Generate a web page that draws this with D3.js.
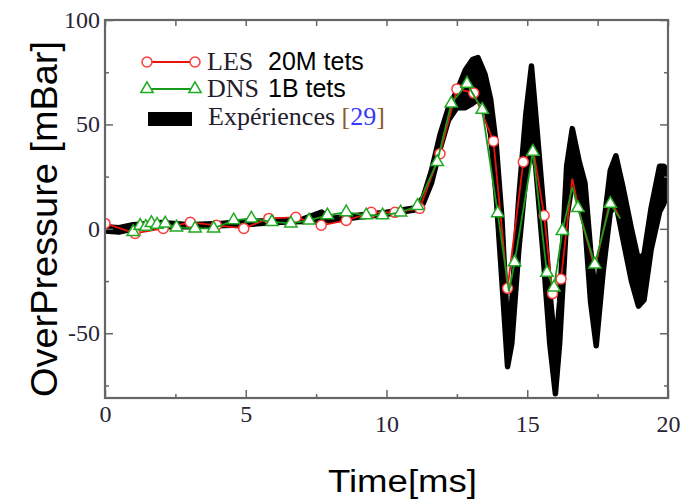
<!DOCTYPE html>
<html>
<head>
<meta charset="utf-8">
<script src="https://cdnjs.cloudflare.com/ajax/libs/d3/7.8.5/d3.min.js"></script>
<style>
  body { margin: 0; background: #fff; }
</style>
</head>
<body>
<div id="chart"></div>
<script>
// LES 20M tets (red, circles) -- m = 1 when a marker is drawn on the point
var lesTime  = [0, 1.07, 2.07, 3.03, 3.96, 4.93, 5.82, 6.78, 7.68, 8.57, 9.46, 10.3, 11.18, 11.9, 12.5, 13.1, 13.8, 14.3, 14.86, 15.2, 15.6, 15.9, 16.2, 16.6, 16.85, 17.4, 17.95, 18.3];
var lesValue = [2.6, -2.2, 0.2, 3.1, 1.7, 0.2, 5, 5.5, 1.7, 4, 7.9, 7.9, 9.8, 36, 67, 65, 42, -28.5, 32, 39, 6.4, -31, -24, 24, 8, -19, 14, 5];
var lesMark  = [1, 1, 1, 1, 1, 1, 1, 1, 1, 1, 1, 1, 1, 1, 1, 1, 1, 1, 1, 0, 1, 1, 1, 0, 0, 0, 0, 0];

// DNS 1B tets (green, triangles)
var dnsTime  = [1.0, 1.25, 1.45, 1.65, 1.85, 2.14, 2.54, 3.2, 3.86, 4.57, 5.2, 5.93, 6.6, 7.25, 7.9, 8.57, 9.28, 9.86, 10.5, 11.1, 11.8, 12.3, 12.86, 13.4, 13.95, 14.35, 14.55, 15.2, 15.7, 15.95, 16.25, 16.6, 16.8, 17.4, 17.95, 18.3];
var dnsValue = [-1.5, 1.5, 1.0, 2.8, 2.0, 2.6, 0.7, 0.2, 0.2, 4.1, 5, 3.3, 2.6, 4, 6.5, 8, 6.5, 6.5, 7.9, 11, 32, 60, 69.5, 57, 7.5, -30, -16, 37, -21, -28, -1, 20, 10, -17, 12, 5];
var dnsMark  = [1, 1, 1, 1, 1, 1, 1, 1, 1, 1, 1, 1, 1, 1, 1, 1, 1, 1, 1, 1, 1, 1, 1, 1, 1, 0, 1, 1, 1, 1, 1, 0, 1, 1, 1, 0];

// Expériences [29] : band between a lower and an upper envelope
var expTime = [0, 0.5, 1.0, 2, 3, 4, 5, 6, 7, 7.7, 8, 9, 10, 11, 11.3, 11.6, 11.9, 12.2, 12.5, 12.8, 13.05, 13.25, 13.5, 13.7, 13.9, 14.1, 14.3, 14.45, 14.7, 14.95, 15.15, 15.3, 15.55, 15.8, 16.0, 16.15, 16.4, 16.6, 16.85, 17.05, 17.25, 17.45, 17.7, 17.95, 18.15, 18.4, 18.7, 18.95, 19.15, 19.4, 19.7, 19.85, 20];
var expHigh = [1, 0.5, 2, 3, 2, 2.5, 3.5, 4, 4.5, 8, 5, 6.5, 8, 10, 15, 28, 45, 58, 66, 76, 81, 82, 74, 62, 40, 5, -48, -35, 15, 55, 78, 55, 15, -30, -58, -35, 30, 48, 32, 22, -10, -35, 0, 28, 35, 20, 0, -15, -12, 10, 30, 30, 28];
var expLow  = [-1, -1.5, 0, 1, 1, 1.5, 2, 3, 3.5, 4, 4, 5.5, 7, 9, 12, 22, 38, 52, 58, 58, 60, 62, 60, 45, 15, -25, -66, -55, -10, 25, 40, 30, -10, -55, -79, -55, 5, 22, 15, 2, -35, -56, -20, 8, 12, -5, -25, -37, -34, -10, 8, 12, 18];

var xMajor = [0, 5, 10, 15, 20];
var xMinor = [2.5, 7.5, 12.5, 17.5];
var yMajor = [-50, 0, 50, 100];
var yMinor = [-75, -25, 25, 75];

var width = 695;
var height = 504;
var box = { left: 105, right: 668, top: 20, bottom: 398 };

var svg = d3.select("#chart")
  .append("svg")
  .attr("width", width)
  .attr("height", height);

var x = d3.scaleLinear().domain([0, 20]).range([box.left, box.right]);
var y = d3.scaleLinear().domain([-81, 100]).range([box.bottom, box.top]);

function zipped(ts, vs, ms) {
  return ts.map(function(t, i) { return { t: t, v: vs[i], m: ms ? ms[i] : 1 }; });
}
var les = zipped(lesTime, lesValue, lesMark);
var dns = zipped(dnsTime, dnsValue, dnsMark);
var exp = expTime.map(function(t, i) { return { t: t, lo: expLow[i], hi: expHigh[i] }; });

// clip to plot box
svg.append("clipPath").attr("id", "plot")
  .append("rect")
  .attr("x", box.left).attr("y", box.top)
  .attr("width", box.right - box.left).attr("height", box.bottom - box.top);

var plot = svg.append("g").attr("clip-path", "url(#plot)");

// experiments
plot.append("path")
  .datum(exp)
  .attr("fill", "#000")
  .attr("d", d3.area().x(d => x(d.t)).y0(d => y(d.lo)).y1(d => y(d.hi)));

["lo", "hi"].forEach(function(k) {
  plot.append("path")
    .datum(exp)
    .attr("fill", "none")
    .attr("stroke", "#000")
    .attr("stroke-width", 5.5)
    .attr("stroke-linejoin", "round")
    .attr("d", d3.line().x(d => x(d.t)).y(d => y(d[k])));
});

var line = d3.line().x(d => x(d.t)).y(d => y(d.v));

// LES
plot.append("path")
  .datum(les)
  .attr("fill", "none")
  .attr("stroke", "#e8140c")
  .attr("stroke-width", 1.8)
  .attr("d", line);

plot.selectAll(".les")
  .data(les.filter(d => d.m))
  .enter().append("circle")
  .attr("class", "les")
  .attr("cx", d => x(d.t))
  .attr("cy", d => y(d.v))
  .attr("r", 5)
  .attr("fill", "#fff")
  .attr("stroke", "#ff3b3b")
  .attr("stroke-width", 1.5);

// DNS
plot.append("path")
  .datum(dns)
  .attr("fill", "none")
  .attr("stroke", "#1a9a1a")
  .attr("stroke-width", 1.8)
  .attr("d", line);

var tri = d3.symbol().type(d3.symbolTriangle).size(66);

plot.selectAll(".dns")
  .data(dns.filter(d => d.m))
  .enter().append("path")
  .attr("class", "dns")
  .attr("transform", d => "translate(" + x(d.t) + "," + y(d.v) + ")")
  .attr("d", tri)
  .attr("fill", "#fff")
  .attr("stroke", "#22aa22")
  .attr("stroke-width", 1.5);

// axes (ticks pointing inside)
var axisColor = "#666";
var plain = d => String(d);
function styleAxis(g) {
  g.select(".domain").remove();
  g.selectAll(".tick line").attr("stroke", axisColor).attr("stroke-width", 1.5);
  g.selectAll("text")
    .attr("font-family", "'Liberation Serif', 'DejaVu Serif', serif")
    .attr("font-size", 24)
    .attr("fill", "#2a2434");
}

svg.append("g")
  .attr("transform", "translate(0," + box.bottom + ")")
  .call(d3.axisBottom(x).tickValues(xMajor).tickSize(-8).tickFormat(plain))
  .call(styleAxis)
  .call(g => g.selectAll("text").attr("dy", 0).attr("y", d => d < 10 ? 24 : 34));

svg.append("g")
  .attr("transform", "translate(0," + box.bottom + ")")
  .call(d3.axisBottom(x).tickValues(xMinor).tickSize(-4).tickFormat(""))
  .call(styleAxis);

svg.append("g")
  .attr("transform", "translate(0," + box.top + ")")
  .call(d3.axisTop(x).tickValues(xMajor.concat(xMinor)).tickSize(-6).tickFormat(""))
  .call(styleAxis);

svg.append("g")
  .attr("transform", "translate(" + box.left + ",0)")
  .call(d3.axisLeft(y).tickValues(yMajor).tickSize(-8).tickPadding(5).tickFormat(plain))
  .call(styleAxis)
  .call(g => g.selectAll("text").attr("dy", "0.3em"));

svg.append("g")
  .attr("transform", "translate(" + box.left + ",0)")
  .call(d3.axisLeft(y).tickValues(yMinor).tickSize(-4).tickFormat(""))
  .call(styleAxis);

svg.append("g")
  .attr("transform", "translate(" + box.right + ",0)")
  .call(d3.axisRight(y).tickValues(yMajor).tickSize(-8).tickFormat(""))
  .call(styleAxis);

svg.append("g")
  .attr("transform", "translate(" + box.right + ",0)")
  .call(d3.axisRight(y).tickValues(yMinor).tickSize(-4).tickFormat(""))
  .call(styleAxis);

svg.append("rect")
  .attr("x", box.left).attr("y", box.top)
  .attr("width", box.right - box.left).attr("height", box.bottom - box.top)
  .attr("fill", "none")
  .attr("stroke", axisColor)
  .attr("stroke-width", 2.2);

// axis titles
svg.append("text")
  .attr("x", (box.left + box.right) / 2 + 16)
  .attr("y", 492)
  .attr("text-anchor", "middle")
  .attr("font-family", "'Liberation Sans', Arial, sans-serif")
  .attr("font-size", 31)
  .attr("textLength", 149)
  .attr("lengthAdjust", "spacingAndGlyphs")
  .text("Time[ms]");

svg.append("text")
  .attr("transform", "translate(57,219) rotate(-90)")
  .attr("text-anchor", "middle")
  .attr("font-family", "'Liberation Sans', Arial, sans-serif")
  .attr("font-size", 37)
  .attr("textLength", 356)
  .attr("lengthAdjust", "spacingAndGlyphs")
  .text("OverPressure [mBar]");

// legend
var serif = "'Liberation Serif', 'DejaVu Serif', serif";
var sans = "'Liberation Sans', Arial, sans-serif";
var lg = svg.append("g");

lg.append("line").attr("x1", 147).attr("x2", 195).attr("y1", 62).attr("y2", 62)
  .attr("stroke", "#e8140c").attr("stroke-width", 1.8);
lg.selectAll(".lc").data([147, 195]).enter().append("circle")
  .attr("cx", d => d).attr("cy", 62).attr("r", 5)
  .attr("fill", "#fff").attr("stroke", "#ff3b3b").attr("stroke-width", 1.5);

lg.append("line").attr("x1", 147).attr("x2", 195).attr("y1", 89).attr("y2", 89)
  .attr("stroke", "#1a9a1a").attr("stroke-width", 1.8);
lg.selectAll(".lt").data([147, 195]).enter().append("path")
  .attr("transform", d => "translate(" + d + ",89)")
  .attr("d", tri)
  .attr("fill", "#fff").attr("stroke", "#22aa22").attr("stroke-width", 1.5);

lg.append("rect").attr("x", 148).attr("y", 112).attr("width", 44).attr("height", 14)
  .attr("fill", "#000");

lg.append("text").attr("x", 207).attr("y", 70)
  .attr("font-family", serif).attr("font-size", 26).attr("fill", "#231c2c").text("LES");
lg.append("text").attr("x", 268).attr("y", 70)
  .attr("font-family", sans).attr("font-size", 25).attr("fill", "#000").text("20M tets");
lg.append("text").attr("x", 207).attr("y", 97)
  .attr("font-family", serif).attr("font-size", 26).attr("fill", "#231c2c").text("DNS");
lg.append("text").attr("x", 268).attr("y", 97)
  .attr("font-family", sans).attr("font-size", 25).attr("fill", "#000").text("1B tets");

var ex = lg.append("text").attr("x", 208).attr("y", 125)
  .attr("font-family", serif).attr("font-size", 26).attr("fill", "#231c2c");
ex.append("tspan").text("Expériences ");
ex.append("tspan").attr("fill", "#8a5a2a").text("[");
ex.append("tspan").attr("fill", "#3838ff").text("29");
ex.append("tspan").attr("fill", "#8a5a2a").text("]");
</script>
</body>
</html>
